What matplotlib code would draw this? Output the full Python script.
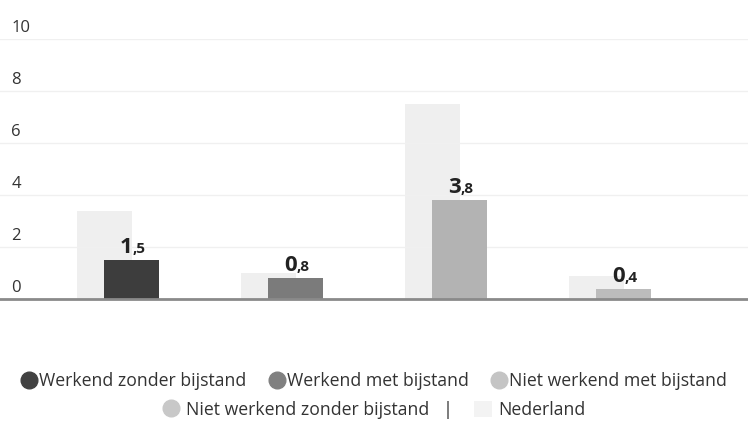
import matplotlib.pyplot as plt
from matplotlib.lines import Line2D
from matplotlib.patches import Patch

plt.rcParams['font.family'] = ['Open Sans', 'DejaVu Sans']

groups = ['Werkend zonder bijstand', 'Werkend met bijstand',
          'Niet werkend met bijstand', 'Niet werkend zonder bijstand']
values = [1.5, 0.8, 3.8, 0.4]
nederland = [3.4, 1.0, 7.5, 0.9]
value_labels = ['1,5', '0,8', '3,8', '0,4']
yticks = [0, 2, 4, 6, 8, 10]

bar_colors = ['#3d3d3d', '#7b7b7b', '#b3b3b3', '#bcbcbc']
dot_colors = ['#414141', '#808080', '#c4c4c4', '#c8c8c8']
ned_color = '#efefef'

fig = plt.figure(figsize=(7.48, 4.21), dpi=100)
ax = fig.add_axes([0, 1 - 299 / 421, 1, 260 / 421])

x = list(range(len(groups)))
w = 0.335
ax.bar([i - 0.165 for i in x], nederland, width=w, color=ned_color, zorder=1)
ax.bar(x, values, width=w, color=bar_colors, zorder=2)

# value labels: big integer part, small decimal part
for i, (v, lab) in enumerate(zip(values, value_labels)):
    whole, dec = lab.split(',')
    ax.annotate(whole, (i, v), xytext=(1, 5), textcoords='offset points',
                ha='right', va='baseline', fontsize=16, fontweight='bold', color='#222222')
    ax.annotate(',' + dec, (i, v), xytext=(1, 5), textcoords='offset points',
                ha='left', va='baseline', fontsize=11, fontweight='bold', color='#222222')

ax.set_xlim(-0.80, 3.76)
ax.set_ylim(0, 10)
ax.set_yticks(yticks)
ax.set_yticklabels([])
ax.tick_params(length=0)
ax.set_xticks([])
ax.grid(axis='y', color='#f0f0f0', linewidth=1, zorder=0)
for s in ['top', 'right', 'left']:
    ax.spines[s].set_visible(False)
ax.spines['bottom'].set_color('#8a8a8a')
ax.spines['bottom'].set_linewidth(2)
ax.spines['bottom'].set_zorder(3)

for t in yticks:
    ax.annotate(str(t), (0.015, t), xycoords=('axes fraction', 'data'),
                xytext=(0, 5), textcoords='offset points',
                ha='left', va='baseline', fontsize=12, color='#333333')

def dot(c):
    return Line2D([], [], marker='o', linestyle='', markersize=12,
                  markerfacecolor=c, markeredgecolor=c)

leg1 = fig.legend([dot(c) for c in dot_colors[:3]], groups[:3],
                  loc='center', bbox_to_anchor=(0.5, 1 - 381 / 421), ncol=3,
                  frameon=False, fontsize=12.7, handletextpad=0.1,
                  columnspacing=1.3, handlelength=0.9)
for t in leg1.get_texts():
    t.set_color('#333333')

leg2 = fig.legend([dot(dot_colors[3]), Patch(facecolor='#f3f3f3', edgecolor='none')],
                  [groups[3] + '   |', 'Nederland'],
                  loc='center', bbox_to_anchor=(0.5, 1 - 410 / 421), ncol=2,
                  frameon=False, fontsize=12.7, handletextpad=0.35,
                  columnspacing=1.2, handlelength=1.0, handleheight=1.0)
for t in leg2.get_texts():
    t.set_color('#333333')

fig.savefig('out.png', dpi=100)
